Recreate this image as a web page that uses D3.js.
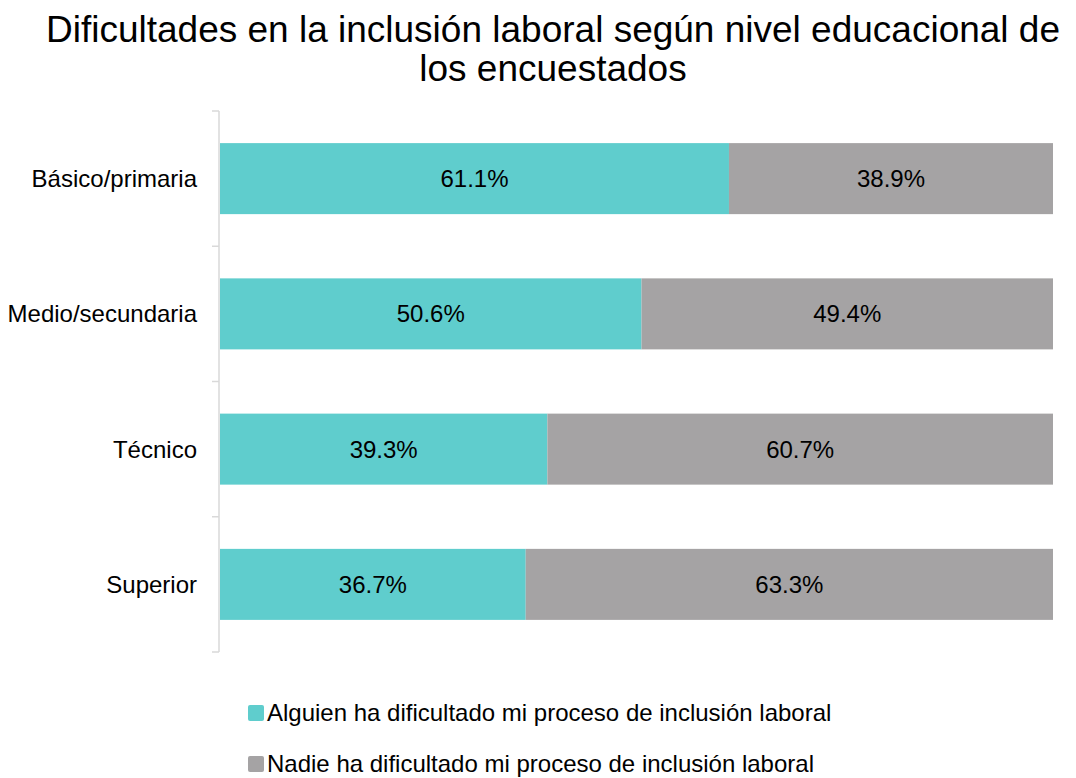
<!DOCTYPE html>
<html>
<head>
<meta charset="utf-8">
<script src="https://cdn.jsdelivr.net/npm/d3@7"></script>
<style>
  body { margin: 0; background: #fff; }
  svg { font-family: "Liberation Sans", Arial, sans-serif; }
</style>
</head>
<body>
<svg id="chart" width="1076" height="778"></svg>
<script>
var categories = ["Básico/primaria", "Medio/secundaria", "Técnico", "Superior"];
var alguien = [61.1, 50.6, 39.3, 36.7];
var nadie = [38.9, 49.4, 60.7, 63.3];
var seriesNames = ["Alguien ha dificultado mi proceso de inclusión laboral",
                   "Nadie ha dificultado mi proceso de inclusión laboral"];
var colors = ["#5fcdcd", "#a5a3a4"];

var svg = d3.select("#chart"),
    margin = {top: 111, right: 23, bottom: 126, left: 220},
    width = +svg.attr("width") - margin.left - margin.right,
    height = +svg.attr("height") - margin.top - margin.bottom,
    g = svg.append("g").attr("transform", "translate(" + margin.left + "," + margin.top + ")");

// stack the two series
var rows = categories.map(function(c, i) {
  return {cat: c, a: alguien[i], n: nadie[i]};
});
var stacked = d3.stack().keys(["a", "n"])(rows);

var x = d3.scaleLinear().domain([0, 100]).range([0, width]);
var y = d3.scaleBand().domain(categories).range([0, height]).paddingInner(0.475).paddingOuter(0.2375);

// title
svg.append("text")
    .attr("x", 553).attr("y", 42)
    .attr("text-anchor", "middle")
    .style("font-size", "37px")
    .style("fill", "#000")
    .text("Dificultades en la inclusión laboral según nivel educacional de");
svg.append("text")
    .attr("x", 553).attr("y", 81)
    .attr("text-anchor", "middle")
    .style("font-size", "37px")
    .style("fill", "#000")
    .text("los encuestados");

// bars
var layer = g.selectAll(".layer")
  .data(stacked)
  .enter().append("g")
    .attr("class", "layer")
    .attr("fill", function(d, i) { return colors[i]; });

layer.selectAll("rect")
  .data(function(d) { return d; })
  .enter().append("rect")
    .attr("x", function(d) { return x(d[0]); })
    .attr("y", function(d) { return y(d.data.cat); })
    .attr("width", function(d) { return x(d[1]) - x(d[0]); })
    .attr("height", y.bandwidth());

layer.selectAll("text")
  .data(function(d) { return d; })
  .enter().append("text")
    .attr("x", function(d) { return (x(d[0]) + x(d[1])) / 2; })
    .attr("y", function(d) { return y(d.data.cat) + y.bandwidth() / 2; })
    .attr("dy", "0.35em")
    .attr("text-anchor", "middle")
    .style("font-size", "24px")
    .style("fill", "#000")
    .text(function(d) { return (d[1] - d[0]).toFixed(1) + "%"; });

// y axis: line with ticks between categories
var bounds = d3.range(categories.length + 1).map(function(i) { return i * height / categories.length; });
var axis = g.append("g").attr("class", "axis axis--y");
axis.append("line")
    .attr("x1", -1).attr("x2", -1)
    .attr("y1", 0).attr("y2", height)
    .attr("stroke", "#d9d9d9").attr("stroke-width", 1.5);
axis.selectAll(".tick")
  .data(bounds)
  .enter().append("line")
    .attr("x1", -8).attr("x2", -1)
    .attr("y1", function(d) { return d; }).attr("y2", function(d) { return d; })
    .attr("stroke", "#d9d9d9").attr("stroke-width", 1.5);

axis.selectAll(".label")
  .data(categories)
  .enter().append("text")
    .attr("x", -23)
    .attr("y", function(d) { return y(d) + y.bandwidth() / 2; })
    .attr("dy", "0.35em")
    .attr("text-anchor", "end")
    .style("font-size", "24px")
    .style("fill", "#000")
    .text(function(d) { return d; });

// legend
var legend = svg.append("g").selectAll("g")
  .data(seriesNames)
  .enter().append("g")
    .attr("transform", function(d, i) { return "translate(248," + (721 + i * 51) + ")"; });
legend.append("rect")
    .attr("x", 0).attr("y", -16)
    .attr("width", 16).attr("height", 16)
    .attr("rx", 2)
    .attr("fill", function(d, i) { return colors[i]; });
legend.append("text")
    .attr("x", 19).attr("y", 0)
    .style("font-size", "24px")
    .style("fill", "#000")
    .text(function(d) { return d; });
</script>
</body>
</html>
